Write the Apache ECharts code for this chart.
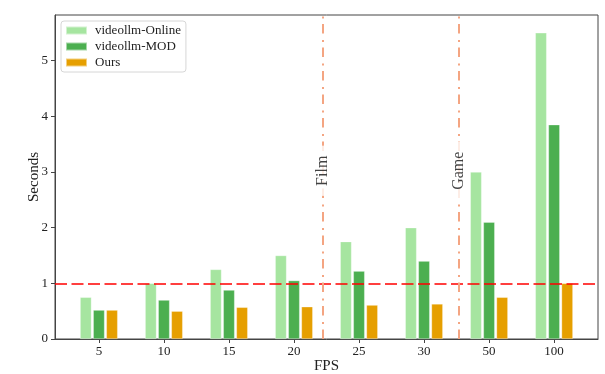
<!DOCTYPE html>
<html><head><meta charset="utf-8">
<script src="https://cdn.jsdelivr.net/npm/echarts@6/dist/echarts.min.js"></script>
<style>html,body{margin:0;padding:0;background:#fff}#c{width:605px;height:374px}</style>
</head><body><div id="c"></div>
<script>
const fpsLabels = ['5','10','15','20','25','30','50','100'];
const onlineValues = [0.75, 1.0, 1.25, 1.5, 1.75, 2.0, 3.0, 5.5];
const modValues = [0.52, 0.70, 0.88, 1.05, 1.22, 1.40, 2.10, 3.85];
const oursValues = [0.52, 0.50, 0.57, 0.58, 0.61, 0.63, 0.75, 1.0];
const seriesNames = ['videollm-Online', 'videollm-MOD', 'Ours'];
const yTicks = [0, 1, 2, 3, 4, 5];
const thresholdValue = 1;
const regionNames = ['Film', 'Game'];
const regionPositions = [3.45, 5.53];
const regionLabelY = 2.95;

const FONT = 'Liberation Serif';
const colors = ['#a6e5a0', '#4caf50', '#e69f00'];
const idx = fpsLabels.map((_, i) => i);
const toPts = arr => arr.map((v, i) => [i, v]);

const chart = echarts.init(document.getElementById('c'), null, {renderer: 'canvas'});
const barBase = {
  type: 'bar', barWidth: 11.4, barGap: '15%', z: 3,
  emphasis: {disabled: true}
};
const mkBar = (i, vals) => Object.assign({}, barBase, {
  name: seriesNames[i], data: toPts(vals),
  itemStyle: {color: colors[i], borderColor: 'rgba(255,255,255,0.5)', borderWidth: 0.6}
});
chart.setOption({
  animation: false,
  textStyle: {fontFamily: FONT},
  grid: {left: 55, right: 7, top: 15, bottom: 35, show: true, borderColor: '#444', borderWidth: 1,
    containLabel: false, outerBoundsMode: 'none'},
  legend: {
    orient: 'vertical', left: 61, top: 21,
    data: seriesNames,
    icon: 'rect', itemWidth: 21, itemHeight: 8, itemGap: 3,
    padding: [3, 5, 3, 4],
    backgroundColor: 'rgba(255,255,255,0.85)', borderColor: '#d6d6d6', borderWidth: 1, borderRadius: 3,
    textStyle: {fontFamily: FONT, fontSize: 13, color: '#222', padding: [0, 0, 0, 3]}
  },
  xAxis: {
    type: 'value', min: -0.675, max: 7.675,
    name: 'FPS', nameLocation: 'middle', nameGap: 20, nameMoveOverlap: false,
    nameTextStyle: {fontFamily: FONT, fontSize: 15, color: '#222', verticalAlign: 'top'},
    axisLine: {show: true, onZero: false, lineStyle: {color: '#444', width: 1}},
    axisTick: {show: true, length: 4, customValues: idx, lineStyle: {color: '#444'}},
    axisLabel: {customValues: idx, margin: 6, fontFamily: FONT, fontSize: 13, color: '#222',
      formatter: v => fpsLabels[Math.round(v)]},
    splitLine: {show: false}
  },
  yAxis: {
    type: 'value', min: 0, max: 5.82,
    name: 'Seconds', nameLocation: 'middle', nameGap: 13, nameMoveOverlap: false,
    nameTextStyle: {fontFamily: FONT, fontSize: 15, color: '#222'},
    axisLine: {show: true, onZero: false, lineStyle: {color: '#444', width: 1}},
    axisTick: {show: true, length: 4, customValues: yTicks, lineStyle: {color: '#444'}},
    axisLabel: {customValues: yTicks, margin: 7, fontFamily: FONT, fontSize: 13, color: '#222'},
    splitLine: {show: false}
  },
  series: [
    mkBar(0, onlineValues),
    mkBar(1, modValues),
    mkBar(2, oursValues),
    {
      type: 'scatter', z: 10, symbolSize: 0, silent: true,
      data: regionNames.map((n, i) => ({name: n, value: [regionPositions[i], regionLabelY]})),
      label: {
        show: true, position: 'inside', rotate: 90, formatter: p => p.name,
        fontFamily: FONT, fontSize: 16, color: '#111',
        backgroundColor: '#fff', padding: [0, 10],
        offset: [4, 0]
      },
      markLine: {
        silent: true, symbol: 'none', label: {show: false}, z: 5,
        data: [
          {yAxis: thresholdValue, lineStyle: {color: '#ff0000', width: 1.5, type: [12, 4.5]}},
          ...regionPositions.map(x => ({xAxis: x, lineStyle: {color: '#f4a582', width: 2, type: [9.5, 5.5, 2, 6.5]}}))
        ]
      }
    }
  ]
});
</script></body></html>
